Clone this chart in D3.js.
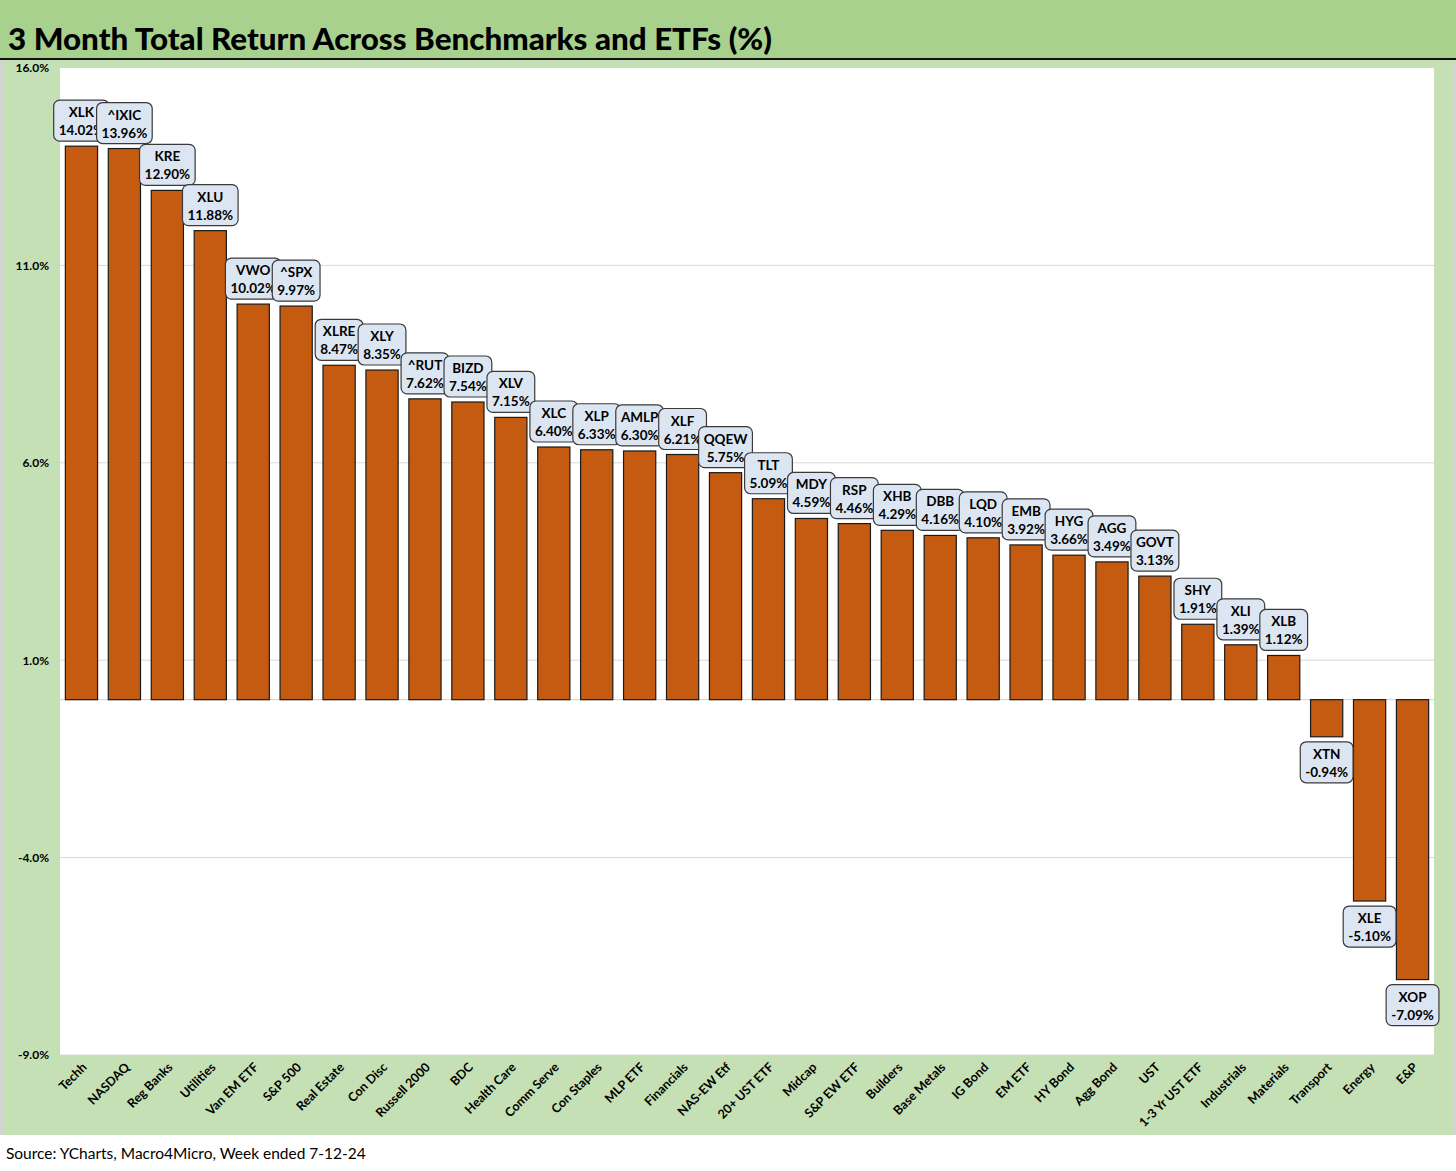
<!DOCTYPE html>
<html><head><meta charset="utf-8">
<script src="https://cdn.jsdelivr.net/npm/d3@7"></script>
<style>
html,body{margin:0;padding:0;background:#fff;}
svg{display:block;}
text{font-family:Lato,"Open Sans","DejaVu Sans",sans-serif;}
</style></head>
<body>
<svg id="c" width="1456" height="1171"></svg>
<script>
const categories = ["Techh","NASDAQ","Reg Banks","Utilities","Van EM ETF","S&P 500","Real Estate","Con Disc","Russell 2000","BDC","Health Care","Comm Serve","Con Staples","MLP ETF","Financials","NAS-EW Etf","20+ UST ETF","Midcap","S&P EW ETF","Builders","Base Metals","IG Bond","EM ETF","HY Bond","Agg Bond","UST","1-3 Yr UST ETF","Industrials","Materials","Transport","Energy","E&P"];
const tickers = ["XLK","^IXIC","KRE","XLU","VWO","^SPX","XLRE","XLY","^RUT","BIZD","XLV","XLC","XLP","AMLP","XLF","QQEW","TLT","MDY","RSP","XHB","DBB","LQD","EMB","HYG","AGG","GOVT","SHY","XLI","XLB","XTN","XLE","XOP"];
const values = [14.02,13.96,12.90,11.88,10.02,9.97,8.47,8.35,7.62,7.54,7.15,6.40,6.33,6.30,6.21,5.75,5.09,4.59,4.46,4.29,4.16,4.10,3.92,3.66,3.49,3.13,1.91,1.39,1.12,-0.94,-5.10,-7.09];
const yTicks = [-9,-4,1,6,11,16];
const title = "3 Month Total Return Across Benchmarks and ETFs (%)";
const source = "Source: YCharts, Macro4Micro, Week ended 7-12-24";

const svg = d3.select("#c");
const W = 1456, H = 1171;
const fmt = (p) => (v) => d3.format(p)(v).replace("\u2212","-");

// backgrounds
svg.append("rect").attr("x",0).attr("y",0).attr("width",W).attr("height",H).attr("fill","#fff");
svg.append("rect").attr("x",0).attr("y",0).attr("width",W).attr("height",58).attr("fill","#a9d18e");
svg.append("rect").attr("x",0).attr("y",60).attr("width",W).attr("height",1075).attr("fill","#c5e0b4");
svg.append("rect").attr("x",0).attr("y",60).attr("width",3).attr("height",1075).attr("fill","#d4d4d4");
svg.append("rect").attr("x",1453).attr("y",60).attr("width",3).attr("height",1075).attr("fill","#d4d4d4");
svg.append("line").attr("x1",0).attr("x2",W).attr("y1",59).attr("y2",59).attr("stroke","#111").attr("stroke-width",2);

// title
svg.append("text").attr("x",8).attr("y",50).attr("font-weight",900).attr("font-size",31)
  .attr("textLength",764).attr("lengthAdjust","spacingAndGlyphs").attr("fill","#000").text(title);

// source
const s = svg.append("text").attr("x",6).attr("y",1159).attr("font-size",15).attr("fill","#000").text(source);
let sw = s.node().getComputedTextLength();
s.attr("font-size", 15*360/sw);

// plot area
const x0 = 60, x1 = 1434, yTop = 68, yBot = 1055;
svg.append("rect").attr("x",x0).attr("y",yTop).attr("width",x1-x0).attr("height",yBot-yTop).attr("fill","#fff");

const x = d3.scaleBand().domain(categories).range([x0,x1]).paddingInner(0.25).paddingOuter(0.125);
const y = d3.scaleLinear().domain([-9,16]).range([yBot,yTop]);

// gridlines
svg.append("g").selectAll("line").data(yTicks.filter(d=>d>-9 && d<16)).join("line")
  .attr("x1",x0).attr("x2",x1).attr("y1",d=>y(d)).attr("y2",d=>y(d))
  .attr("stroke","#d9d9d9").attr("stroke-width",1);
svg.append("line").attr("x1",x0).attr("x2",x1).attr("y1",y(0)).attr("y2",y(0)).attr("stroke","#d0d0d0").attr("stroke-width",1);
svg.append("line").attr("x1",x0).attr("x2",x1).attr("y1",yBot).attr("y2",yBot).attr("stroke","#d9d9d9").attr("stroke-width",1);

// y axis labels
const yAxis = d3.axisLeft(y).tickValues(yTicks).tickFormat(d=>fmt(".1f")(d)+"%").tickSize(0).tickPadding(0);
const ga = svg.append("g").attr("transform","translate(49,0)").call(yAxis);
ga.select(".domain").remove();
ga.selectAll("text").attr("font-family","Lato,'Open Sans',sans-serif").attr("font-size",12).attr("font-weight",700).attr("fill","#000");

// bars
const data = categories.map((c,i)=>({c, t:tickers[i], v:values[i]}));
svg.append("g").selectAll("rect").data(data).join("rect")
  .attr("x",d=>x(d.c)).attr("width",x.bandwidth())
  .attr("y",d=>Math.min(y(d.v),y(0))).attr("height",d=>Math.abs(y(d.v)-y(0)))
  .attr("fill","#c55a11").attr("stroke","#1a1a1a").attr("stroke-width",1.2);

// x axis labels
const xAxis = d3.axisBottom(x).tickSize(0).tickPadding(0);
const gx = svg.append("g").attr("transform",`translate(0,${yBot})`).call(xAxis);
gx.select(".domain").remove();
gx.selectAll("text")
  .attr("font-family","Lato,'Open Sans',sans-serif").attr("font-size",12.5).attr("font-weight",700).attr("fill","#000")
  .attr("text-anchor","end").attr("dy",0).attr("y",0)
  .attr("transform","translate(6,13) rotate(-45)");

// data labels
const lg = svg.append("g");
data.forEach(d=>{
  const cx = x(d.c)+x.bandwidth()/2;
  const g = lg.append("g");
  const r = g.append("rect");
  const t1 = g.append("text").attr("x",cx).attr("text-anchor","middle").attr("font-size",13.5).attr("font-weight",700).attr("fill","#000").text(d.t);
  const t2 = g.append("text").attr("x",cx).attr("text-anchor","middle").attr("font-size",13.5).attr("font-weight",700).attr("fill","#000").text(fmt(".2f")(d.v)+"%");
  const w = Math.max(t1.node().getComputedTextLength(), t2.node().getComputedTextLength()) + 10;
  const h = 41;
  const top = d.v >= 0 ? y(d.v) - 5 - h : y(d.v) + 5;
  r.attr("x",cx-w/2).attr("y",top).attr("width",w).attr("height",h).attr("rx",6)
   .attr("fill","#dce6f2").attr("stroke","#3a3a3a").attr("stroke-width",1.2);
  t1.attr("y",top+17);
  t2.attr("y",top+35);
});
</script>
</body></html>
